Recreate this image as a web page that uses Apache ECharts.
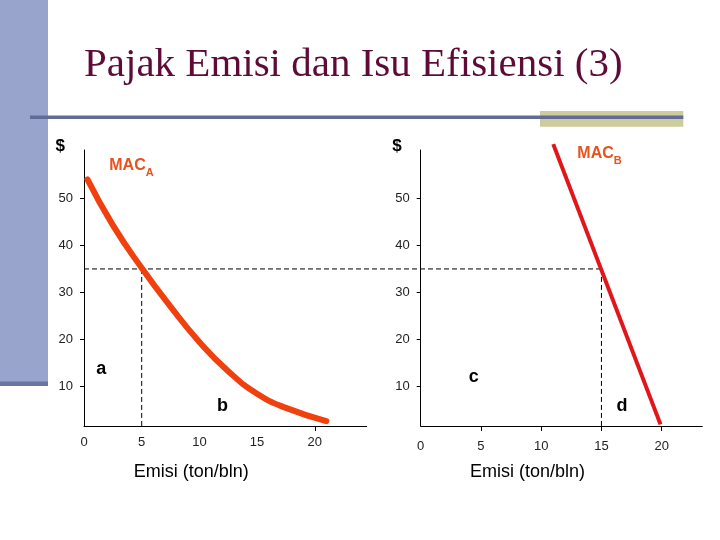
<!DOCTYPE html>
<html>
<head>
<meta charset="utf-8">
<style>
  html, body { margin: 0; padding: 0; background: #fff; }
  #chart { width: 720px; height: 540px; }
</style>
<script src="https://cdn.jsdelivr.net/npm/echarts@6/dist/echarts.min.js"></script>
</head>
<body>
<div id="chart"></div>
<script>
// ---- data ----
const xTicks = [0, 5, 10, 15, 20];
const yTicks = [10, 20, 30, 40, 50];
// MAC_A (convex curve), emisi vs $
const macAX = [0.3, 2.5, 5, 7.5, 10, 12.5, 15, 17.5, 21];
const macAY = [54, 44.3, 35.2, 27, 19.5, 13.3, 8.5, 5.5, 2.7];
// MAC_B (steep straight line)
const macBX = [11.0, 19.9];
const macBY = [61.5, 2.0];
// tax level and the emission each firm picks
const taxLevel = 35;
const emisiA = 5;
const emisiB = 15;
// area letters
const lettersA = ['a', 'b'], lettersAX = [1.5, 12.0], lettersAY = [13.7, 5.9];
const lettersB = ['c', 'd'], lettersBX = [4.4, 16.7], lettersBY = [12.0, 5.8];

// ---- layout (px) ----
const L = { left: 84, top: 150, width: 282.7, height: 276 };
const R = { left: 420.7, top: 150, width: 281.6, height: 276 };
const xMaxL = 24.5, xMaxR = 23.37;
const yMin = 1.66, yMax = 60.25;
// overlay grid spans from left y axis to right grid end, in right-chart x units
const scaleR = R.width / xMaxR;
const xMinO = -(R.left - L.left) / scaleR;

const INK = '#222';
const RED_A = '#f0400e', RED_B = '#e0161b', LBL = '#e8521e';
const zip = (xs, ys) => xs.map((x, i) => [x, ys[i]]);

function xAx(idx, max, tickVals, margin) {
  return { gridIndex: idx, type: 'value', min: 0, max: max,
    axisLine: { onZero: false, lineStyle: { color: '#000', width: 1 } },
    axisTick: { show: tickVals.length > 0, customValues: tickVals, length: 5, lineStyle: { color: '#000' } },
    axisLabel: { customValues: xTicks, color: INK, fontSize: 13, fontFamily: 'Arial', margin: margin },
    splitLine: { show: false },
    name: 'Emisi (ton/bln)', nameLocation: 'middle', nameGap: 37,
    nameTextStyle: { color: '#000', fontSize: 18, fontFamily: 'Arial', padding: [0, 68, 0, 0] } };
}
function yAx(idx) {
  return { gridIndex: idx, type: 'value', min: yMin, max: yMax,
    axisLine: { onZero: false, lineStyle: { color: '#000', width: 1 } },
    axisTick: { customValues: yTicks, length: 4, lineStyle: { color: '#000' } },
    axisLabel: { customValues: yTicks, color: INK, fontSize: 13, fontFamily: 'Arial', margin: 11 },
    splitLine: { show: false },
    name: '$', nameLocation: 'end', nameGap: 4,
    nameTextStyle: { color: '#000', fontSize: 17, fontWeight: 'bold', fontFamily: 'Arial',
      align: 'right', verticalAlign: 'middle', padding: [0, 19, 0, 0] } };
}
const dash = { color: '#000', width: 1, type: [5, 3] };
const letterSeries = (idx, names, xs, ys) => ({
  type: 'scatter', xAxisIndex: idx, yAxisIndex: idx, symbolSize: 0, silent: true,
  itemStyle: { opacity: 1 },
  data: names.map((n, i) => ({ name: n, value: [xs[i], ys[i]] })),
  label: { show: true, position: 'inside', formatter: '{b}', color: '#000',
    fontSize: 18, fontWeight: 'bold', fontFamily: 'Arial' } });
const macLabel = (idx, sub, x, y) => ({
  type: 'scatter', xAxisIndex: idx, yAxisIndex: idx, symbolSize: 0, silent: true,
  itemStyle: { opacity: 1 },
  data: [{ name: sub, value: [x, y] }],
  label: { show: true, position: 'right', distance: 0,
    formatter: '{m|MAC}{s|' + sub + '}',
    rich: { m: { color: LBL, fontSize: 16, fontWeight: 'bold', fontFamily: 'Arial', lineHeight: 16, verticalAlign: 'top' },
            s: { color: LBL, fontSize: 11, fontWeight: 'bold', fontFamily: 'Arial', lineHeight: 21, verticalAlign: 'bottom' } } } });

const chart = echarts.init(document.getElementById('chart'), null, { renderer: 'canvas' });
chart.setOption({
  backgroundColor: '#fff',
  animation: false,
  title: { text: 'Pajak Emisi dan Isu Efisiensi (3)', left: 84, top: 45, padding: 0,
    textStyle: { fontFamily: 'Liberation Serif', fontSize: 41, fontWeight: 'normal', color: '#5e0b38' } },
  graphic: [
    { type: 'rect', shape: { x: 0, y: 0, width: 48, height: 386 }, style: { fill: '#98a4cc' } },
    { type: 'rect', shape: { x: 0, y: 381.5, width: 48, height: 4.5 }, style: { fill: '#6d74a2' } },
    { type: 'rect', shape: { x: 540, y: 111, width: 143.3, height: 15.7 }, style: { fill: '#cccc9c' } },
    { type: 'rect', shape: { x: 30, y: 115.6, width: 653.3, height: 3.4 }, style: { fill: '#646a96' } }
  ],
  grid: [
    Object.assign({}, L),
    Object.assign({}, R),
    { left: L.left, top: L.top, width: R.left + R.width - L.left, height: L.height }
  ],
  xAxis: [
    xAx(0, xMaxL, [20], 10),
    xAx(1, xMaxR, [5, 10, 15, 20], 14),
    { gridIndex: 2, type: 'value', min: xMinO, max: xMaxR, show: false }
  ],
  yAxis: [
    yAx(0), yAx(1),
    { gridIndex: 2, type: 'value', min: yMin, max: yMax, show: false }
  ],
  series: [
    // tax line across both panels
    { type: 'line', xAxisIndex: 2, yAxisIndex: 2, symbol: 'none', silent: true,
      data: [[xMinO, taxLevel], [emisiB, taxLevel]], lineStyle: dash },
    { type: 'line', xAxisIndex: 0, yAxisIndex: 0, symbol: 'none', silent: true,
      data: [[emisiA, taxLevel], [emisiA, 0]], lineStyle: dash },
    { type: 'line', xAxisIndex: 1, yAxisIndex: 1, symbol: 'none', silent: true,
      data: [[emisiB, taxLevel], [emisiB, 0]], lineStyle: dash },
    { type: 'line', xAxisIndex: 0, yAxisIndex: 0, symbol: 'none', smooth: 0.5, clip: false,
      data: zip(macAX, macAY), lineStyle: { color: RED_A, width: 6, cap: 'round' } },
    { type: 'line', xAxisIndex: 1, yAxisIndex: 1, symbol: 'none', clip: false,
      data: zip(macBX, macBY), lineStyle: { color: RED_B, width: 4 } },
    letterSeries(0, lettersA, lettersAX, lettersAY),
    letterSeries(1, lettersB, lettersBX, lettersBY),
    macLabel(0, 'A', 2.19, 56.5),
    macLabel(1, 'B', 13.0, 59.0)
  ]
});
</script>
</body>
</html>
